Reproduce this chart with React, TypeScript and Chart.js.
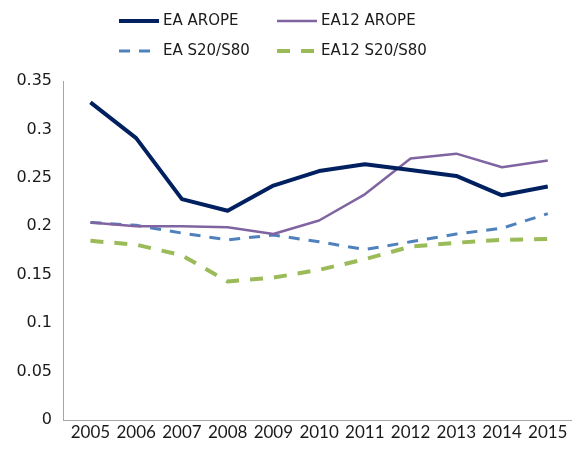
import React, { useEffect, useRef } from "react";
import { Chart, registerables } from "chart.js";

Chart.register(...registerables);

const years = [2005, 2006, 2007, 2008, 2009, 2010, 2011, 2012, 2013, 2014, 2015];
const eaArope = [0.328, 0.291, 0.228, 0.216, 0.242, 0.257, 0.264, 0.258, 0.252, 0.232, 0.241];
const ea12Arope = [0.204, 0.2, 0.2, 0.199, 0.192, 0.206, 0.233, 0.27, 0.275, 0.261, 0.268];
const eaS20S80 = [0.204, 0.201, 0.193, 0.186, 0.191, 0.184, 0.176, 0.184, 0.192, 0.198, 0.213];
const ea12S20S80 = [0.185, 0.181, 0.17, 0.143, 0.147, 0.155, 0.166, 0.179, 0.183, 0.186, 0.187];
const seriesLabels = ["EA AROPE", "EA12 AROPE", "EA S20/S80", "EA12 S20/S80"];
const yTicks = [0, 0.05, 0.1, 0.15, 0.2, 0.25, 0.3, 0.35];

const TEXT = "#1a1a1a";
const AXIS = "#a6a6a6";

const legendPlugin = {
  id: "customLegend",
  afterDraw(chart: any) {
    const ctx = chart.ctx;
    const colX = [119, 277];
    const rowY = [21, 51];
    chart.data.datasets.forEach((ds: any, i: number) => {
      const x = colX[i % 2];
      const y = rowY[Math.floor(i / 2)];
      ctx.save();
      ctx.strokeStyle = ds.borderColor;
      ctx.lineWidth = ds.borderWidth;
      ctx.setLineDash(ds.borderDash || []);
      ctx.lineCap = "butt";
      ctx.beginPath();
      ctx.moveTo(x, y);
      ctx.lineTo(x + 40, y);
      ctx.stroke();
      ctx.setLineDash([]);
      ctx.fillStyle = TEXT;
      ctx.font = '15px "DejaVu Sans"';
      ctx.textBaseline = "middle";
      ctx.textAlign = "left";
      ctx.fillText(ds.label, x + 44, y);
      ctx.restore();
    });
  },
};

export default function App() {
  const ref = useRef<HTMLCanvasElement>(null);
  useEffect(() => {
    document.body.style.margin = "0";
    const mk = (vals: number[]) => vals.map((v, i) => ({ x: years[i], y: v }));
    const chart = new Chart(ref.current!, {
      type: "line",
      data: {
        datasets: [
          { label: seriesLabels[0], data: mk(eaArope), borderColor: "#002060", borderWidth: 4 },
          { label: seriesLabels[1], data: mk(ea12Arope), borderColor: "#8064A2", borderWidth: 2.5 },
          { label: seriesLabels[2], data: mk(eaS20S80), borderColor: "#4F81BD", borderWidth: 3, borderDash: [11, 9] },
          { label: seriesLabels[3], data: mk(ea12S20S80), borderColor: "#9BBB59", borderWidth: 4, borderDash: [13, 11] },
        ] as any,
      },
      options: {
        responsive: false,
        animation: false,
        layout: { padding: { top: 81, right: 0, left: 0, bottom: 0 } },
        elements: {
          point: { radius: 0, hoverRadius: 0 },
          line: { tension: 0, borderJoinStyle: "round", fill: false },
        },
        plugins: { legend: { display: false }, tooltip: { enabled: false } },
        scales: {
          x: {
            type: "linear",
            min: 2004.4,
            max: 2015.53,
            afterBuildTicks: (s: any) => {
              s.ticks = years.map((v) => ({ value: v }));
            },
            afterFit: (s: any) => {
              s.height = 33;
            },
            grid: { display: false, drawTicks: false },
            border: { display: true, color: AXIS, width: 1 },
            ticks: {
              autoSkip: false,
              maxRotation: 0,
              padding: 2,
              color: TEXT,
              font: { family: "Lato", size: 17 },
              callback: (v: any) => String(v),
            },
          },
          y: {
            min: 0,
            max: 0.35,
            afterBuildTicks: (s: any) => {
              s.ticks = yTicks.map((v) => ({ value: v }));
            },
            afterFit: (s: any) => {
              s.width = 63;
            },
            grid: { display: false, drawTicks: false },
            border: { display: true, color: AXIS, width: 1 },
            ticks: {
              padding: 11,
              color: TEXT,
              font: { family: "DejaVu Sans", size: 16 },
              callback: (v: any) => String(Number(Number(v).toFixed(2))),
            },
          },
        },
      } as any,
      plugins: [legendPlugin],
    });
    return () => chart.destroy();
  }, []);
  return (
    <div style={{ width: 572, height: 453 }}>
      <canvas ref={ref} width={572} height={453} style={{ display: "block" }} />
    </div>
  );
}
